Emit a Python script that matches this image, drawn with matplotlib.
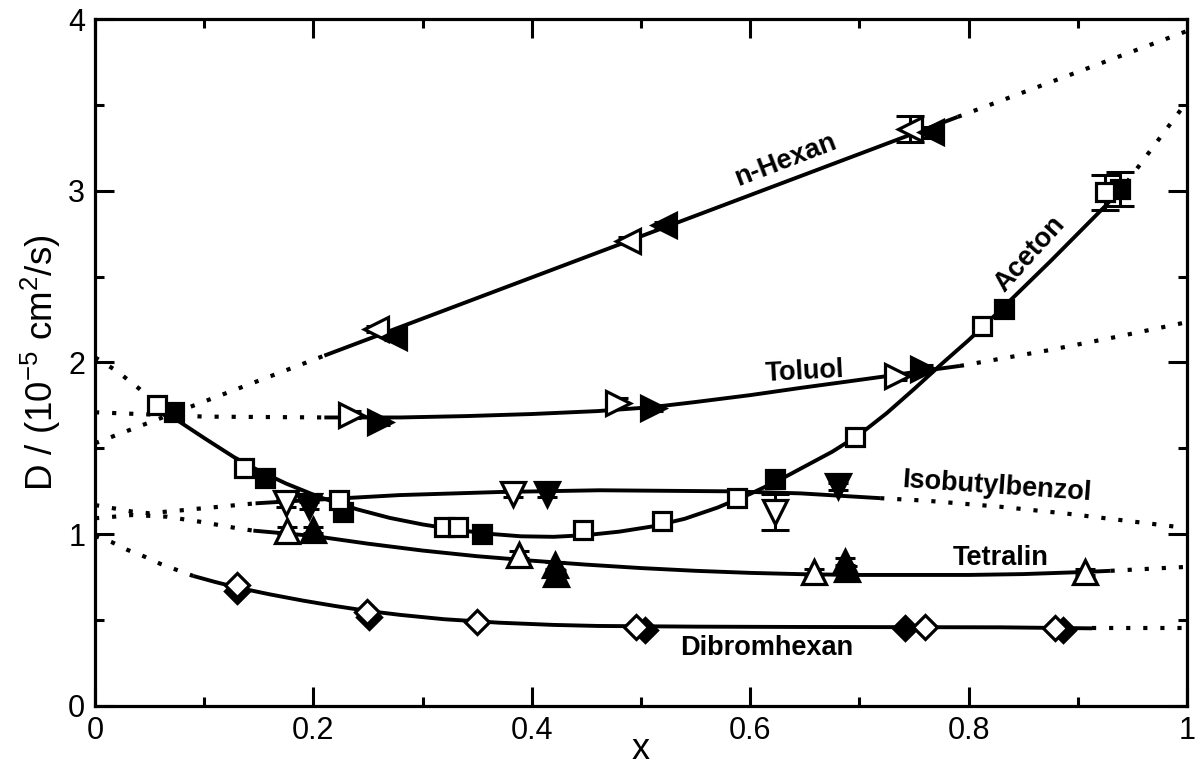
import numpy as np
import matplotlib
matplotlib.use("Agg")
import matplotlib.pyplot as plt
from matplotlib.ticker import MultipleLocator

plt.rcParams['font.family'] = ['Liberation Sans', 'DejaVu Sans']
plt.rcParams['mathtext.default'] = 'regular'

# ---- measured diffusion coefficients (open = series 1, filled = series 2) ----
hexan_open_x = [0.257, 0.488, 0.746]
hexan_open_y = [2.195, 2.71, 3.36]
hexan_open_err = [0.02, 0.02, 0.075]
hexan_fill_x = [0.274, 0.521, 0.766]
hexan_fill_y = [2.15, 2.80, 3.34]
hexan_fill_err = [0.02, 0.02, 0.03]

toluol_open_x = [0.234, 0.479, 0.734]
toluol_open_y = [1.695, 1.765, 1.92]
toluol_open_err = [0.02, 0.03, 0.02]
toluol_fill_x = [0.261, 0.511, 0.758]
toluol_fill_y = [1.655, 1.735, 1.965]
toluol_fill_err = [0.02, 0.02, 0.02]

aceton_open_x = [0.057, 0.136, 0.223, 0.320, 0.332, 0.447, 0.519, 0.588, 0.696, 0.812, 0.925]
aceton_open_y = [1.75, 1.385, 1.20, 1.04, 1.04, 1.025, 1.075, 1.21, 1.565, 2.21, 2.99]
aceton_open_err = [0.03, 0.02, 0.02, 0.02, 0.02, 0.02, 0.02, 0.02, 0.02, 0.03, 0.10]
aceton_fill_x = [0.072, 0.156, 0.227, 0.354, 0.623, 0.832, 0.939]
aceton_fill_y = [1.71, 1.33, 1.13, 1.00, 1.32, 2.31, 3.01]
aceton_fill_err = [0.02, 0.02, 0.02, 0.02, 0.02, 0.03, 0.10]

isob_open_x = [0.175, 0.383, 0.623]
isob_open_y = [1.18, 1.235, 1.13]
isob_open_err = [0.02, 0.02, 0.105]
isob_fill_x = [0.196, 0.414, 0.680]
isob_fill_y = [1.165, 1.235, 1.28]
isob_fill_err = [0.02, 0.02, 0.02]

tetra_open_x = [0.176, 0.388, 0.658, 0.907]
tetra_open_y = [1.02, 0.88, 0.78, 0.78]
tetra_open_err = [0.02, 0.02, 0.02, 0.02]
tetra_fill_x = [0.200, 0.421, 0.422, 0.687, 0.689]
tetra_fill_y = [1.025, 0.82, 0.77, 0.84, 0.795]
tetra_fill_err = [0.02, 0.02, 0.02, 0.02, 0.02]

dibrom_open_x = [0.130, 0.249, 0.350, 0.495, 0.760, 0.879]
dibrom_open_y = [0.705, 0.55, 0.49, 0.46, 0.46, 0.455]
dibrom_fill_x = [0.130, 0.251, 0.504, 0.742, 0.886]
dibrom_fill_y = [0.67, 0.52, 0.44, 0.455, 0.44]

# ---- fitted curves (knots), solid inside the measured range, dotted outside ----
hexan_fit_x = [0.0, 0.21, 0.79, 1.0]
hexan_fit_y = [1.53, 2.04, 3.43, 3.93]
hexan_solid = (0.21, 0.79)

toluol_fit_x = [0.0, 0.1, 0.21, 0.28, 0.34, 0.40, 0.46, 0.51, 0.55, 0.60, 0.646, 0.69,
                0.722, 0.757, 0.792, 0.872, 0.936, 1.0]
toluol_fit_y = [1.71, 1.685, 1.68, 1.68, 1.688, 1.70, 1.717, 1.74, 1.77, 1.81, 1.852, 1.89,
                1.918, 1.95, 1.98, 2.07, 2.15, 2.235]
toluol_solid = (0.21, 0.792)

aceton_fit_x = [0.0, 0.02, 0.04, 0.057, 0.075, 0.10, 0.127, 0.15, 0.175, 0.206, 0.24, 0.27,
                0.30, 0.33, 0.36, 0.39, 0.42, 0.45, 0.48, 0.51, 0.54, 0.57, 0.60, 0.625,
                0.65, 0.675, 0.70, 0.725, 0.75, 0.775, 0.80, 0.825, 0.85, 0.875, 0.90,
                0.925, 0.945, 0.966, 0.986, 1.0]
aceton_fit_y = [2.03, 1.95, 1.85, 1.75, 1.665, 1.56, 1.45, 1.37, 1.295, 1.215, 1.145, 1.095,
                1.057, 1.027, 1.003, 0.988, 0.985, 0.995, 1.015, 1.045, 1.09, 1.155, 1.235, 1.31,
                1.395, 1.48, 1.58, 1.705, 1.845, 1.99, 2.13, 2.28, 2.435, 2.59, 2.75,
                2.91, 3.05, 3.23, 3.40, 3.52]
aceton_solid = (0.057, 0.945)

isob_fit_x = [0.0, 0.017, 0.034, 0.050, 0.066, 0.082, 0.098, 0.114, 0.130, 0.147, 0.20,
              0.279, 0.371, 0.462, 0.579, 0.646, 0.719, 0.762, 0.829, 0.89, 1.0]
isob_fit_y = [1.17, 1.151, 1.132, 1.122, 1.132, 1.141, 1.151, 1.16, 1.17, 1.18, 1.20,
              1.228, 1.246, 1.256, 1.25, 1.238, 1.21, 1.195, 1.16, 1.12, 1.036]
isob_solid = (0.147, 0.719)

tetra_fit_x = [0.0, 0.017, 0.034, 0.066, 0.081, 0.096, 0.113, 0.130, 0.145, 0.20, 0.25,
               0.30, 0.35, 0.40, 0.45, 0.50, 0.55, 0.60, 0.65, 0.70, 0.80, 0.85, 0.905,
               0.93, 0.984, 1.0]
tetra_fit_y = [1.093, 1.102, 1.112, 1.102, 1.087, 1.073, 1.054, 1.035, 1.021, 0.99, 0.945,
               0.905, 0.872, 0.846, 0.823, 0.803, 0.787, 0.775, 0.767, 0.763, 0.763, 0.768, 0.78,
               0.787, 0.805, 0.81]
tetra_solid = (0.145, 0.93)

dibrom_fit_x = [0.0, 0.015, 0.03, 0.046, 0.06, 0.075, 0.09, 0.11, 0.13, 0.16, 0.19, 0.22,
                0.25, 0.28, 0.32, 0.37, 0.42, 0.46, 0.55, 0.646, 0.829, 0.913, 1.0]
dibrom_fit_y = [0.99, 0.955, 0.908, 0.868, 0.827, 0.792, 0.757, 0.722, 0.69, 0.65, 0.614, 0.582,
                0.553, 0.53, 0.505, 0.485, 0.472, 0.466, 0.462, 0.46, 0.458, 0.452, 0.452]
dibrom_solid = (0.09, 0.913)

# ---- curve labels ----
labels = ["n-Hexan", "Toluol", "Aceton", "Isobutylbenzol", "Tetralin", "Dibromhexan"]
label_x = [0.632, 0.650, 0.856, 0.826, 0.829, 0.615]
label_y = [3.18, 1.945, 2.63, 1.275, 0.862, 0.338]
label_rot = [21, 3, 48, -4, 0, 0]

x_ticks = [0, 0.2, 0.4, 0.6, 0.8, 1]
x_ticklabels = ["0", "0.2", "0.4", "0.6", "0.8", "1"]
y_ticks = [0, 1, 2, 3, 4]
y_ticklabels = ["0", "1", "2", "3", "4"]

LW = 2.8
DOT = (0, (1, 3.1))

fig = plt.figure(figsize=(12.03, 7.73), dpi=100)
ax = fig.add_axes([0.079, 0.0867, 0.9077, 0.8887])


def draw_fit(fx, fy, solid):
    fx = np.asarray(fx)
    fy = np.asarray(fy)
    lo, hi = solid
    left = fx <= lo + 1e-9
    mid = (fx >= lo - 1e-9) & (fx <= hi + 1e-9)
    right = fx >= hi - 1e-9
    ax.plot(fx[left], fy[left], color='k', lw=3.0, ls=DOT, dash_capstyle='butt', zorder=2)
    ax.plot(fx[mid], fy[mid], color='k', lw=LW, ls='-', solid_joinstyle='round',
            solid_capstyle='butt', zorder=2)
    ax.plot(fx[right], fy[right], color='k', lw=3.0, ls=DOT, dash_capstyle='butt', zorder=2)


def draw_points(x, y, err, marker, ms, filled, z, capsize=7):
    if err is not None:
        big = [e >= 0.05 for e in err]
        for want_big, cs in ((False, capsize), (True, 10)):
            xs = [xi for xi, b in zip(x, big) if b == want_big]
            ys = [yi for yi, b in zip(y, big) if b == want_big]
            es = [ei for ei, b in zip(err, big) if b == want_big]
            if xs:
                ax.errorbar(xs, ys, yerr=es, fmt='none', ecolor='k', elinewidth=2.2,
                            capsize=cs, capthick=2.2, zorder=3)
    ax.plot(x, y, ls='none', marker=marker, ms=ms, mew=2.3, mec='k',
            mfc='k' if filled else 'white', zorder=z)


for fx, fy, s in [(hexan_fit_x, hexan_fit_y, hexan_solid),
                  (toluol_fit_x, toluol_fit_y, toluol_solid),
                  (aceton_fit_x, aceton_fit_y, aceton_solid),
                  (isob_fit_x, isob_fit_y, isob_solid),
                  (tetra_fit_x, tetra_fit_y, tetra_solid),
                  (dibrom_fit_x, dibrom_fit_y, dibrom_solid)]:
    draw_fit(fx, fy, s)

TRI = 17
SQ = 13
DIA = 12
draw_points(hexan_open_x, hexan_open_y, hexan_open_err, '<', TRI, False, 4)
draw_points(hexan_fill_x, hexan_fill_y, hexan_fill_err, '<', TRI, True, 5)
draw_points(toluol_open_x, toluol_open_y, toluol_open_err, '>', TRI, False, 4)
draw_points(toluol_fill_x, toluol_fill_y, toluol_fill_err, '>', TRI, True, 5)
draw_points(aceton_fill_x, aceton_fill_y, aceton_fill_err, 's', SQ, True, 4)
draw_points(aceton_open_x, aceton_open_y, aceton_open_err, 's', SQ, False, 5)
draw_points(isob_open_x, isob_open_y, isob_open_err, 'v', TRI, False, 4)
draw_points(isob_fill_x, isob_fill_y, isob_fill_err, 'v', TRI, True, 5)
draw_points(tetra_open_x, tetra_open_y, tetra_open_err, '^', TRI, False, 4)
draw_points(tetra_fill_x, tetra_fill_y, tetra_fill_err, '^', TRI, True, 5)
draw_points(dibrom_fill_x, dibrom_fill_y, None, 'D', DIA, True, 4)
draw_points(dibrom_open_x, dibrom_open_y, None, 'D', DIA, False, 5)

for t, lx, ly, r in zip(labels, label_x, label_y, label_rot):
    ax.text(lx, ly, t, rotation=r, ha='center', va='center', fontsize=19.5,
            fontweight='bold', rotation_mode='anchor', zorder=6)

ax.set_xlim(0, 1)
ax.set_ylim(0, 4)
ax.set_xticks(x_ticks)
ax.set_xticklabels(x_ticklabels)
ax.set_yticks(y_ticks)
ax.set_yticklabels(y_ticklabels)
ax.xaxis.set_minor_locator(MultipleLocator(0.1))
ax.yaxis.set_minor_locator(MultipleLocator(0.5))
ax.tick_params(which='both', direction='in', top=True, right=True, width=2.2,
               labelsize=22, pad=7)
ax.tick_params(which='major', length=13.5)
ax.tick_params(which='minor', length=6.5)
for sp in ax.spines.values():
    sp.set_linewidth(2.3)

ax.set_xlabel("x", fontsize=26, labelpad=-10)
ax.set_ylabel("D / (10$^{-5}$ cm$^2$/s)", fontsize=26.5, labelpad=4)

fig.savefig("out.png", dpi=100)
